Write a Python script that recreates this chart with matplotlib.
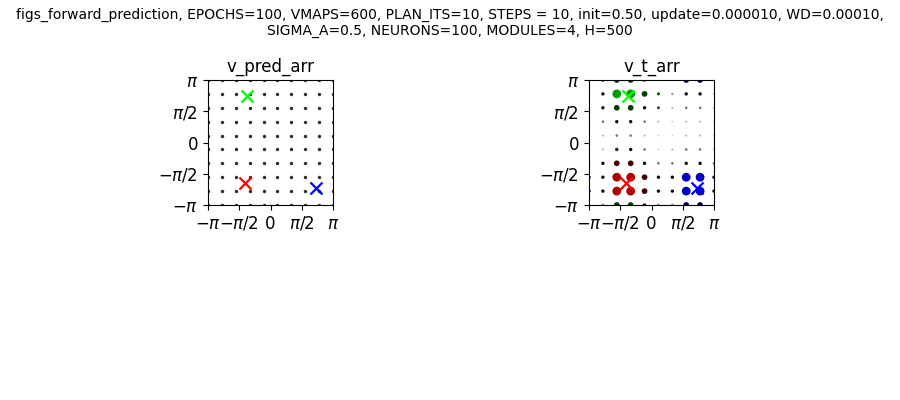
import numpy as np
import matplotlib
matplotlib.use("Agg")
import matplotlib.pyplot as plt

# ---- data ----
grid_vals = np.linspace(-np.pi, np.pi, 10)

target_x = [-1.2, -1.3, 2.28]
target_y = [2.34, -2.05, -2.30]
target_colors = ["#00ff00", "#ff0000", "#0000ff"]

# strength of v_t_arr at each grid point, rows from y=+pi (top) to y=-pi (bottom),
# columns from x=-pi (left) to x=+pi (right)
v_t_strength = [
    [1.0, 3.0, 4.0, 4.0, 3.0, 1.0, 1.0, 4.0, 4.0, 1.0],
    [1.0, 3.0, 5.0, 5.0, 4.0, 2.6, 1.5, 3.0, 3.0, 1.0],
    [1.0, 3.0, 4.0, 4.0, 3.0, 2.5, 1.0, 2.0, 2.0, 1.0],
    [1.0, 2.0, 3.0, 3.0, 2.0, 1.0, 0.5, 1.0, 1.0, 0.5],
    [0.5, 1.0, 2.0, 2.0, 1.0, 0.3, 0.3, 1.0, 1.0, 0.5],
    [1.0, 1.0, 3.0, 3.0, 2.0, 0.5, 1.0, 2.0, 2.0, 1.0],
    [2.0, 3.0, 4.0, 4.0, 3.0, 2.0, 2.0, 3.0, 3.0, 2.0],
    [3.0, 3.0, 5.0, 5.0, 4.0, 3.0, 3.0, 5.0, 5.0, 3.0],
    [3.0, 3.0, 5.0, 5.0, 4.0, 3.0, 3.0, 5.0, 5.0, 3.0],
    [1.0, 2.0, 4.0, 4.0, 3.0, 2.0, 2.0, 4.0, 4.0, 1.0],
]
# dominant target of each grid point (g/r/b, k = none)
v_t_hue = [
    "kkggkkkbbk",
    "kkggggkkkk",
    "kkggkkkkkk",
    "kkkkkkkkkk",
    "kkkkkkkkkk",
    "kkkkkkkkkk",
    "kkrrkkkkkk",
    "bkrrrkkbbb",
    "bkrrrkkbbb",
    "kkggkkkbbk",
]

# ---- style helpers ----
hue_rgb = {"g": (0.0, 0.62, 0.0), "r": (0.68, 0.0, 0.0), "b": (0.0, 0.0, 0.75), "k": (0, 0, 0)}

def style_for(s, h):
    size = float(np.interp(s, [0, 1, 2, 3, 4, 5], [1.4, 2.2, 3.5, 6.0, 17.0, 40.0]))
    if s >= 3.5 and h != "k":
        f = float(np.interp(s, [3.5, 4, 5], [0.25, 0.4, 1.0]))
        c = tuple(v * f for v in hue_rgb[h])
    elif h != "k" and s >= 2.5:
        c = tuple(v * 0.6 for v in hue_rgb[h])
    else:
        g = float(np.interp(s, [0, 1, 2, 3], [0.88, 0.7, 0.45, 0.05]))
        c = (g, g, g)
    return size, c

fig = plt.figure(figsize=(9, 4), dpi=100)
fig.suptitle("figs_forward_prediction, EPOCHS=100, VMAPS=600, PLAN_ITS=10, STEPS = 10, "
             "init=0.50, update=0.000010, WD=0.00010,\nSIGMA_A=0.5, NEURONS=100, MODULES=4, H=500",
             fontsize=10, y=0.98)

ax_w = 125 / 900
ax_h = 125 / 400
ax1 = fig.add_axes([208 / 900, 1 - 205 / 400, ax_w, ax_h])
ax2 = fig.add_axes([589 / 900, 1 - 205 / 400, ax_w, ax_h])

gx, gy = np.meshgrid(grid_vals, grid_vals[::-1])

# v_pred_arr
ax1.scatter(gx.ravel(), gy.ravel(), s=6, color="0.18", linewidths=0)

# v_t_arr
sizes, cols = [], []
for i in range(10):
    for j in range(10):
        sz, c = style_for(v_t_strength[i][j], v_t_hue[i][j])
        sizes.append(sz)
        cols.append(c)
order = np.argsort(sizes)
ax2.scatter(gx.ravel()[order], gy.ravel()[order], s=np.array(sizes)[order],
            c=np.array(cols)[order], linewidths=0)

for ax, title in [(ax1, "v_pred_arr"), (ax2, "v_t_arr")]:
    for x, y, c in zip(target_x, target_y, target_colors):
        ax.scatter([x], [y], marker="x", s=75, color=c, linewidths=1.6, zorder=3)
    ax.set_xlim(-np.pi, np.pi)
    ax.set_ylim(-np.pi, np.pi)
    ticks = [-np.pi, -np.pi / 2, 0, np.pi / 2, np.pi]
    labels = [r"$-\pi$", r"$-\pi/2$", "0", r"$\pi/2$", r"$\pi$"]
    ax.set_xticks(ticks)
    ax.set_xticklabels(labels, fontsize=12)
    ax.set_yticks(ticks)
    ax.set_yticklabels(labels, fontsize=12)
    ax.set_title(title, fontsize=12)

fig.savefig("out.png", dpi=100)
